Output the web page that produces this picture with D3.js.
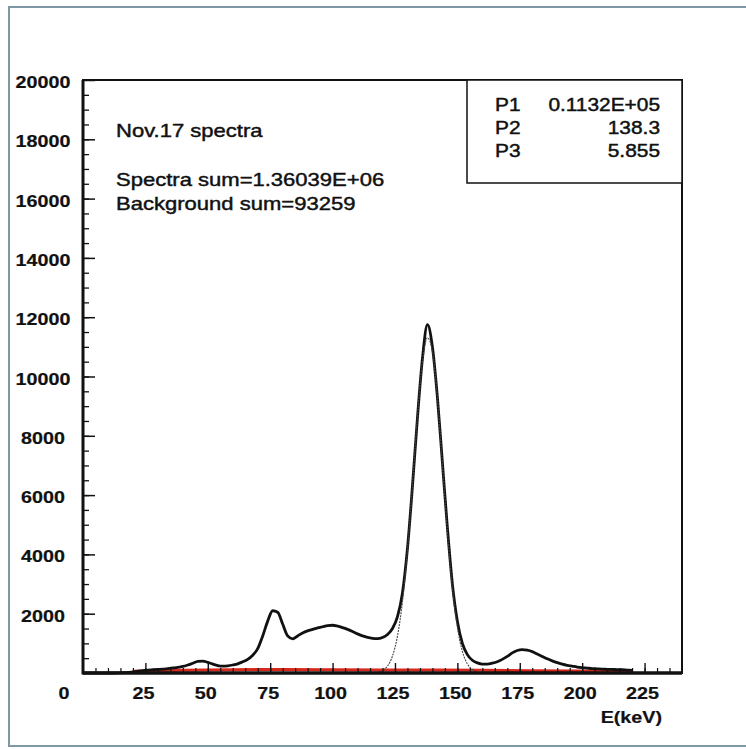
<!DOCTYPE html>
<html>
<head>
<meta charset="utf-8">
<script src="https://cdn.jsdelivr.net/npm/d3@7"></script>
<style>
  html, body { margin: 0; padding: 0; background: #fff; }
  svg { display: block; font-family: "Liberation Sans", Arial, Helvetica, sans-serif; }
</style>
</head>
<body>
<svg id="chart" width="746" height="749"></svg>
<script>
const energy = [0, 2, 4, 6, 8, 10, 12, 14, 16, 18, 20, 22, 24, 26, 28, 30, 32, 34, 36, 38,
  40, 42, 44, 46, 48, 50, 52, 54, 56, 58, 60, 62, 64, 66, 68, 70, 72, 74, 76, 78,
  80, 82, 84, 86, 88, 90, 92, 94, 96, 98, 100, 102, 104, 106, 108, 110, 112, 114, 116, 118,
  120, 122, 124, 126, 128, 130, 132, 134, 136, 138, 140, 142, 144, 146, 148, 150, 152, 154, 156, 158,
  160, 162, 164, 166, 168, 170, 172, 174, 176, 178, 180, 182, 184, 186, 188, 190, 192, 194, 196, 198,
  200, 202, 204, 206, 208, 210, 212, 214, 216, 218, 220];
const counts = [0, 0, 0, 0, 0, 0, 0, 5, 10, 20, 40, 60, 80, 100, 110, 120, 130, 150, 170, 190,
  220, 270, 330, 390, 400, 360, 300, 250, 230, 240, 270, 310, 380, 460, 600, 820, 1250, 1750, 2100, 2050,
  1650, 1250, 1150, 1250, 1350, 1420, 1470, 1520, 1560, 1600, 1610, 1580, 1530, 1470, 1400, 1320, 1250, 1200, 1170, 1160,
  1200, 1300, 1500, 1900, 2700, 4200, 6300, 8600, 10600, 11750, 11000, 9300, 7100, 4900, 3000, 1750, 1000, 620, 430, 340,
  300, 300, 330, 380, 460, 560, 680, 760, 790, 770, 720, 640, 560, 480, 410, 350, 300, 260, 230, 200,
  180, 165, 150, 140, 130, 125, 120, 115, 110, 100, 90];

// background spectrum (red, near zero)
const bgEnergy = [20, 40, 60, 80, 100, 120, 140, 160, 180, 200, 220];
const bgCounts = [60, 90, 110, 120, 110, 100, 100, 90, 80, 70, 60];

// gaussian fit curve
const fitEnergy = [118, 120, 122, 124, 126, 128, 130, 132, 134, 136, 138, 140, 142, 144, 146, 148, 150, 152, 154, 156, 158];
const fitCounts = [28, 86, 235, 573, 1246, 2409, 4144, 6345, 8644, 10479, 11305, 10853, 9270, 7048, 4767, 2869, 1537, 732, 311, 117, 39];

const xTicks = [25, 50, 75, 100, 125, 150, 175, 200, 225];
const yTicks = [2000, 4000, 6000, 8000, 10000, 12000, 14000, 16000, 18000, 20000];

const infoLines = ["Nov.17 spectra", "Spectra sum=1.36039E+06", "Background sum=93259"];
const statNames = ["P1", "P2", "P3"];
const statValues = ["0.1132E+05", "138.3", "5.855"];

const W = 746, H = 749;
const plot = { left: 83, right: 682, top: 80, bottom: 673 };
const SX = 1.16; // picture is stretched horizontally

const svg = d3.select("#chart");

const x = d3.scaleLinear().domain([0, 240]).range([plot.left, plot.right]);
const y = d3.scaleLinear().domain([0, 20000]).range([plot.bottom, plot.top]);

function stretched(g, tx, ty, str, opts) {
  return g.append("text")
    .attr("transform", `translate(${tx},${ty}) scale(${SX},1)`)
    .attr("text-anchor", opts.anchor || "start")
    .style("font-size", opts.size + "px")
    .style("font-weight", opts.weight || "normal")
    .style("fill", "#111")
    .style("stroke", "#111")
    .style("stroke-width", opts.weight ? 0.2 : 0.45)
    .text(str);
}

// outer canvas frame (left, top, bottom edges visible)
svg.append("path")
  .attr("d", `M${W + 2},7 H9 V${H - 3} H${W + 2}`)
  .attr("fill", "none")
  .attr("stroke", "#7f98a6")
  .attr("stroke-width", 2);

// background (red)
const line = d3.line().x(d => x(d[0])).y(d => y(d[1]));
svg.append("path")
  .datum(d3.zip(bgEnergy, bgCounts))
  .attr("fill", "none")
  .attr("stroke", "#d8281c")
  .attr("stroke-width", 3)
  .attr("d", line);

// measured spectrum
svg.append("path")
  .datum(d3.zip(energy, counts))
  .attr("fill", "none")
  .attr("stroke", "#111")
  .attr("stroke-width", 2.8)
  .attr("stroke-linejoin", "round")
  .attr("d", line.curve(d3.curveMonotoneX));

// fit
svg.append("path")
  .datum(d3.zip(fitEnergy, fitCounts))
  .attr("fill", "none")
  .attr("stroke", "#444")
  .attr("stroke-width", 1.1)
  .attr("stroke-dasharray", "2,1")
  .attr("d", line.curve(d3.curveMonotoneX));

// y axis ticks (inside)
svg.append("g")
  .attr("transform", `translate(${plot.left},0)`)
  .call(d3.axisLeft(y).tickValues(d3.range(500, 20000, 500)).tickSizeInner(-6).tickSizeOuter(0).tickFormat(""))
  .call(g => g.select(".domain").remove())
  .selectAll("line").attr("stroke", "#111").attr("stroke-width", 1.3);

const yAxis = svg.append("g")
  .attr("transform", `translate(${plot.left},0)`)
  .call(d3.axisLeft(y).tickValues(yTicks).tickSizeInner(-12).tickSizeOuter(0).tickFormat(""));
yAxis.select(".domain").remove();
yAxis.selectAll("line").attr("stroke", "#111").attr("stroke-width", 1.5);

yTicks.forEach(v => {
  stretched(svg, 43, y(v) + 8, String(v), { anchor: "middle", size: 17, weight: "bold" });
});
stretched(svg, 64, 699, "0", { anchor: "middle", size: 17, weight: "bold" });

// x axis ticks (inside)
svg.append("g")
  .attr("transform", `translate(0,${plot.bottom})`)
  .call(d3.axisBottom(x).tickValues(d3.range(5, 240, 5)).tickSizeInner(-5).tickSizeOuter(0).tickFormat(""))
  .call(g => g.select(".domain").remove())
  .selectAll("line").attr("stroke", "#111").attr("stroke-width", 1.2);

const xAxis = svg.append("g")
  .attr("transform", `translate(0,${plot.bottom})`)
  .call(d3.axisBottom(x).tickValues(xTicks).tickSizeInner(-10).tickSizeOuter(0).tickFormat(""));
xAxis.select(".domain").remove();
xAxis.selectAll("line").attr("stroke", "#111").attr("stroke-width", 1.4);

xTicks.forEach(v => {
  stretched(svg, x(v) - 2, 699, String(v), { anchor: "middle", size: 17, weight: "bold" });
});
stretched(svg, 662, 723, "E(keV)", { anchor: "end", size: 17, weight: "bold" });

// plot frame
svg.append("rect")
  .attr("x", plot.left).attr("y", plot.top)
  .attr("width", plot.right - plot.left).attr("height", plot.bottom - plot.top)
  .attr("fill", "none").attr("stroke", "#111").attr("stroke-width", 2);
svg.append("line")
  .attr("x1", plot.left).attr("x2", plot.left).attr("y1", plot.top).attr("y2", plot.bottom + 1.5)
  .attr("stroke", "#111").attr("stroke-width", 3);
svg.append("line")
  .attr("x1", plot.left).attr("x2", plot.right).attr("y1", plot.bottom).attr("y2", plot.bottom)
  .attr("stroke", "#111").attr("stroke-width", 3.5);

// info text
const infoY = [137, 186, 210];
infoLines.forEach((t, i) => stretched(svg, 116, infoY[i], t, { size: 19 }));

// fit stats box
svg.append("rect")
  .attr("x", 467).attr("y", plot.top)
  .attr("width", plot.right - 467).attr("height", 103)
  .attr("fill", "#fff").attr("stroke", "#111").attr("stroke-width", 1.5);
const statY = [111, 134, 157];
statNames.forEach((n, i) => {
  stretched(svg, 495, statY[i], n, { size: 18 });
  stretched(svg, 660, statY[i], statValues[i], { anchor: "end", size: 18 });
});
</script>
</body>
</html>
